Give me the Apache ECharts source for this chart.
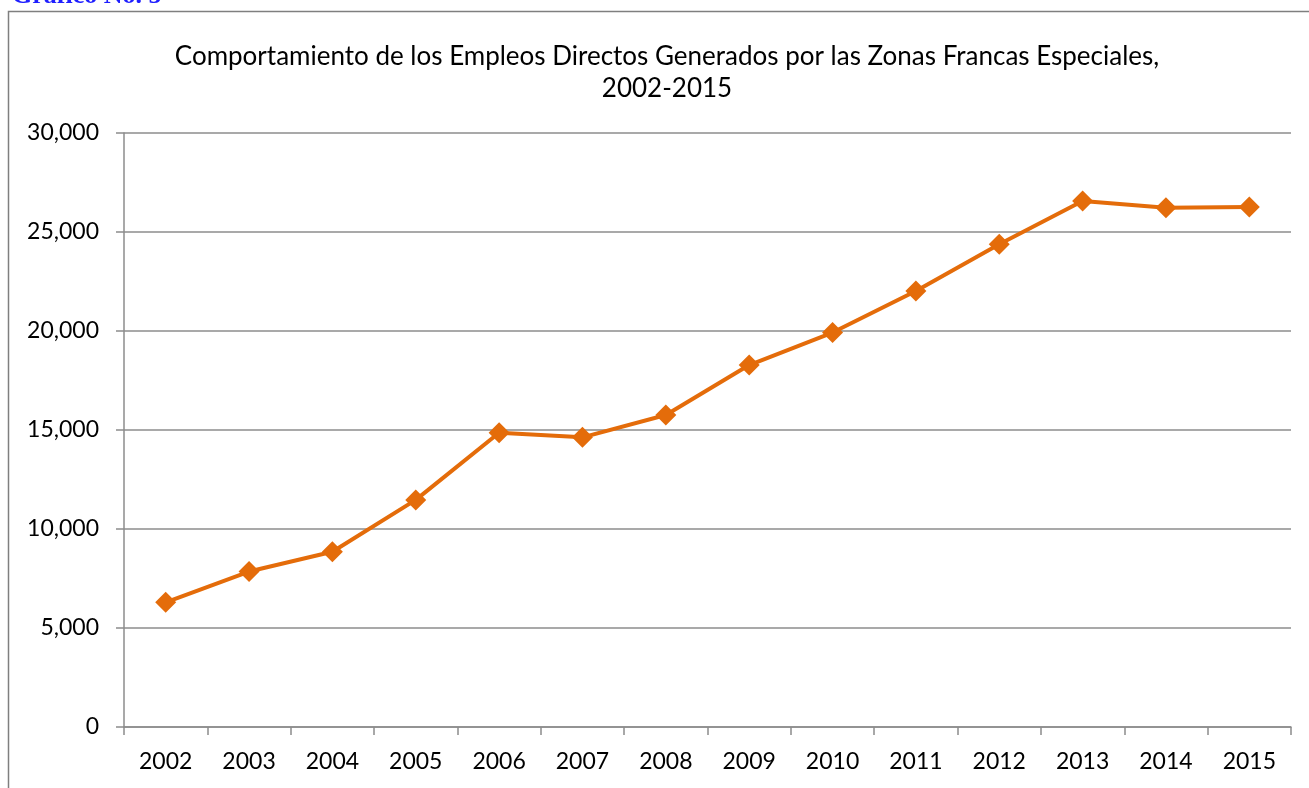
<!DOCTYPE html>
<html>
<head>
<meta charset="utf-8">
<title>Empleos Directos Zonas Francas Especiales</title>
<script src="https://cdn.jsdelivr.net/npm/echarts@6/dist/echarts.min.js"></script>
<style>
    html, body { margin: 0; padding: 0; background: #fff; }
    #chart { width: 1309px; height: 788px; }
</style>
</head>
<body>
<div id="chart"></div>
<script>
'use strict';

// 年份 / 数据
var years = ['2002', '2003', '2004', '2005', '2006', '2007', '2008',
             '2009', '2010', '2011', '2012', '2013', '2014', '2015'];
var empleos = [6300, 7850, 8850, 11470, 14860, 14630, 15760,
               18280, 19920, 22020, 24380, 26570, 26230, 26260];
var yTicks = [0, 5000, 10000, 15000, 20000, 25000, 30000];

var chart = echarts.init(document.getElementById('chart'));

var axisGray = '#8c8c8c';
var font = 'Lato, "Open Sans", sans-serif';

var option = {
    backgroundColor: '#fff',
    animation: false,
    title: {
        text: 'Comportamiento de los Empleos Directos Generados por las Zonas Francas Especiales,\n2002-2015',
        left: 662,
        top: 36,
        textAlign: 'center',
        textStyle: {
            fontFamily: font,
            fontWeight: 'normal',
            fontSize: 26,
            lineHeight: 32,
            color: '#000'
        }
    },
    // 外框 + 左上角标题
    graphic: [
        {
            type: 'rect',
            shape: { x: 8.5, y: 11.5, width: 1400, height: 900 },
            style: { fill: 'none', stroke: '#7f7f7f', lineWidth: 1.5 },
            silent: true
        },
        {
            type: 'text',
            left: 12,
            top: -17,
            style: {
                text: 'Gráfico No. 5',
                fill: '#1f1fff',
                font: 'bold 26px "Liberation Serif", serif'
            }
        }
    ],
    grid: {
        left: 124,
        right: 18,
        top: 133,
        bottom: 61,
        containLabel: false
    },
    xAxis: {
        type: 'category',
        data: years,
        boundaryGap: true,
        axisLine: { lineStyle: { color: axisGray, width: 1.5 } },
        axisTick: { show: true, length: 8, lineStyle: { color: axisGray, width: 1.5 } },
        axisLabel: {
            margin: 23,
            fontFamily: font,
            fontSize: 23,
            color: '#000'
        }
    },
    yAxis: {
        type: 'value',
        min: yTicks[0],
        max: yTicks[yTicks.length - 1],
        interval: 5000,
        axisLine: { show: true, lineStyle: { color: axisGray, width: 1.5 } },
        axisTick: { show: true, length: 8, lineStyle: { color: axisGray, width: 1.5 } },
        splitLine: { lineStyle: { color: axisGray, width: 1.5 } },
        axisLabel: {
            margin: 25,
            fontFamily: font,
            fontSize: 23,
            color: '#000',
            formatter: function (v) {
                return v.toLocaleString('en-US');
            }
        }
    },
    series: [
        {
            name: 'Empleos directos',
            type: 'line',
            data: empleos,
            symbol: 'diamond',
            symbolSize: 21,
            showAllSymbol: true,
            lineStyle: { color: '#e46c0a', width: 4 },
            itemStyle: { color: '#e46c0a' }
        }
    ]
};

chart.setOption(option);
</script>
</body>
</html>
